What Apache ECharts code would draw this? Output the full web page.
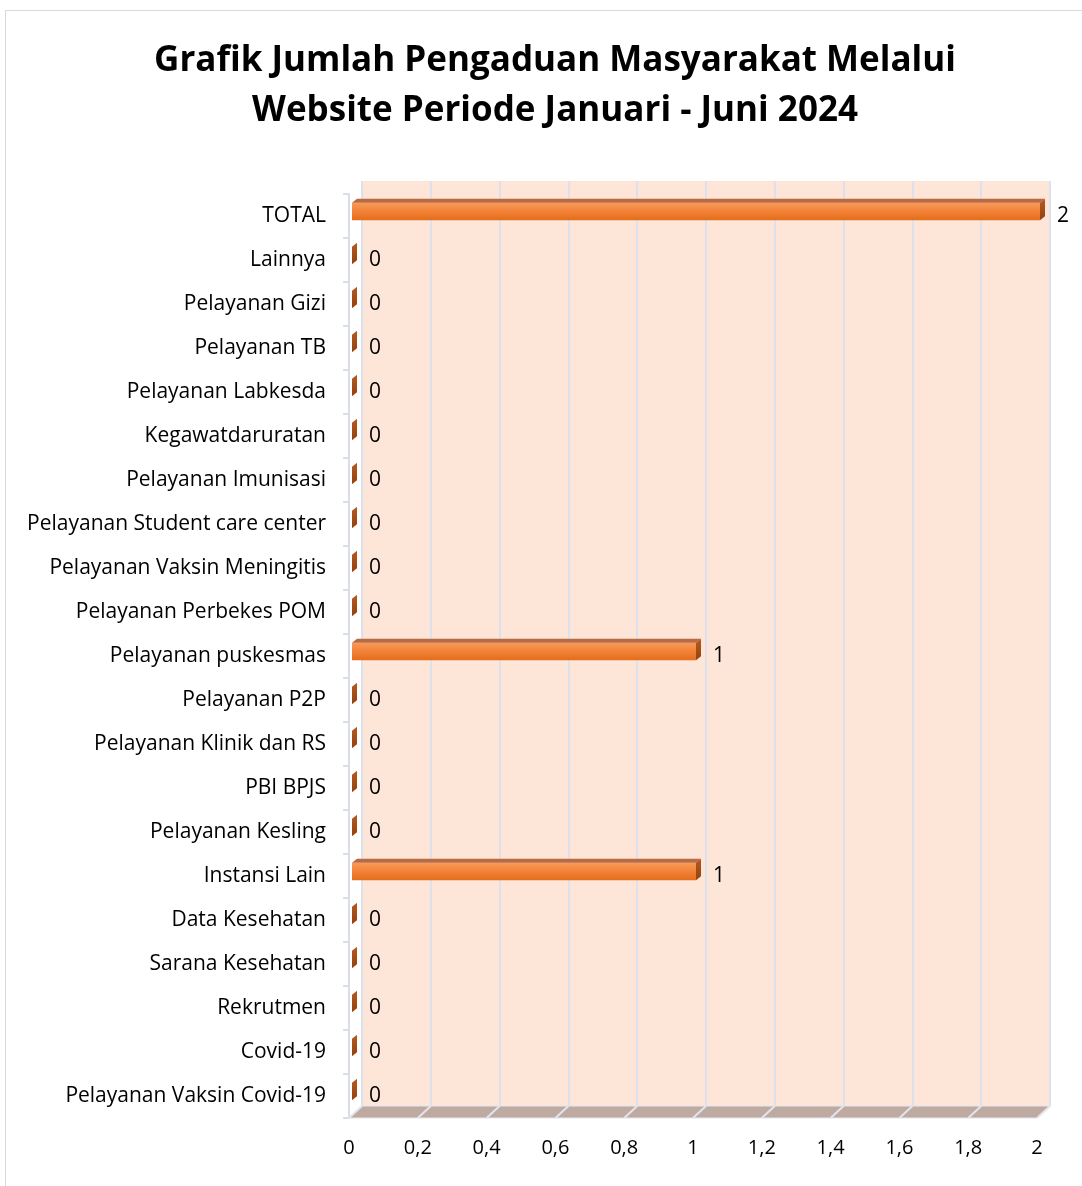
<!DOCTYPE html>
<html>
<head>
<meta charset="utf-8">
<script src="https://cdn.jsdelivr.net/npm/echarts@6/dist/echarts.min.js"></script>
<style>
  html, body { margin: 0; padding: 0; background: #fff; }
  #main { width: 1082px; height: 1186px; }
</style>
</head>
<body>
<div id="main"></div>
<script>
// kategori, urut dari atas ke bawah
var categories = [
  'TOTAL', 'Lainnya', 'Pelayanan Gizi', 'Pelayanan TB', 'Pelayanan Labkesda',
  'Kegawatdaruratan', 'Pelayanan Imunisasi', 'Pelayanan Student care center',
  'Pelayanan Vaksin Meningitis', 'Pelayanan Perbekes POM', 'Pelayanan puskesmas',
  'Pelayanan P2P', 'Pelayanan Klinik dan RS', 'PBI BPJS', 'Pelayanan Kesling',
  'Instansi Lain', 'Data Kesehatan', 'Sarana Kesehatan', 'Rekrutmen', 'Covid-19',
  'Pelayanan Vaksin Covid-19'
];
// jumlah pengaduan
var jumlah = [2, 0, 0, 0, 0, 0, 0, 0, 0, 0, 1, 0, 0, 0, 0, 1, 0, 0, 0, 0, 0];
// sumbu x
var xMin = 0, xMax = 2, xStep = 0.2;

var FONT = '"Open Sans", sans-serif';
var DX = 13, DY = -12;   // geser dinding belakang (efek 3D)

var chart = echarts.init(document.getElementById('main'));

// lantai + garis grid di lantai
function renderFloor(params, api) {
  var n = categories.length;
  var band = api.size([0, 1])[1];
  var l = api.coord([xMin, n - 1]);
  var r = api.coord([xMax, n - 1]);
  var y = l[1] + band / 2;
  var kids = [{
    type: 'polygon',
    shape: { points: [[l[0], y], [r[0], y], [r[0] + DX, y + DY], [l[0] + DX, y + DY]] },
    style: { fill: '#bfaaa2', stroke: '#e3e6ee', lineWidth: 1 }
  }];
  for (var k = 0; xMin + k * xStep <= xMax + 1e-9; k++) {
    var p = api.coord([xMin + k * xStep, n - 1]);
    kids.push({
      type: 'line',
      shape: { x1: p[0], y1: y, x2: p[0] + DX, y2: y + DY },
      style: { stroke: '#e2e5ee', lineWidth: 2 }
    });
  }
  return { type: 'group', children: kids };
}

// batang 3D
function renderBar(params, api) {
  var v = api.value(0), i = api.value(1);
  var s = api.coord([0, i]);
  var e = api.coord([v, i]);
  var band = api.size([0, 1])[1];
  var h = band * 0.4;
  var cy = s[1] - 4.5;
  var x0 = s[0] + 3, x1 = e[0] + 3;
  var top = cy - h / 2, bot = cy + h / 2;
  var ox = 5, oy = -4;
  return {
    type: 'group',
    children: [
      {
        type: 'rect',
        shape: { x: x0, y: top, width: x1 - x0, height: h },
        style: {
          fill: new echarts.graphic.LinearGradient(0, 0, 0, 1, [
            { offset: 0, color: '#f89a5a' },
            { offset: 0.45, color: '#f3843a' },
            { offset: 1, color: '#e56c1c' }
          ])
        }
      },
      {
        type: 'polygon',
        shape: { points: [[x0, top], [x1, top], [x1 + ox, top + oy], [x0 + ox, top + oy]] },
        style: { fill: '#b86a42' }
      },
      {
        type: 'polygon',
        shape: { points: [[x1, top], [x1 + ox, top + oy], [x1 + ox, bot + oy], [x1, bot]] },
        style: {
          fill: new echarts.graphic.LinearGradient(0, 0, 0, 1, [
            { offset: 0, color: '#b5591f' },
            { offset: 1, color: '#94420f' }
          ])
        }
      },
      {
        type: 'text',
        style: {
          text: String(v), x: x1 + ox + 12, y: cy + 4.5,
          fill: '#000', font: '21px ' + FONT,
          textAlign: 'left', textVerticalAlign: 'middle'
        }
      }
    ]
  };
}

chart.setOption({
  animation: false,
  title: {
    text: 'Grafik Jumlah Pengaduan Masyarakat Melalui\nWebsite Periode Januari - Juni 2024',
    left: 550, top: 31, textAlign: 'center',
    textStyle: { fontFamily: FONT, fontWeight: 'bold', fontSize: 35, lineHeight: 50, color: '#000' }
  },
  graphic: [{
    type: 'rect', z: -10, silent: true,
    shape: { x: 5.5, y: 10.5, width: 1200, height: 1300 },
    style: { fill: 'none', stroke: '#d9d9d9', lineWidth: 1 }
  }],
  grid: [
    { left: 362, top: 181, width: 688, height: 925, show: true, backgroundColor: '#fde5d8', borderWidth: 0 },
    { left: 349, top: 194, width: 688, height: 924 }
  ],
  xAxis: [
    {
      gridIndex: 0, type: 'value', min: xMin, max: xMax, interval: xStep,
      axisLine: { show: false }, axisTick: { show: false }, axisLabel: { show: false },
      splitLine: { show: true, lineStyle: { color: '#dde1eb', width: 2 } }
    },
    {
      gridIndex: 1, type: 'value', min: xMin, max: xMax, interval: xStep,
      axisLine: { show: false }, axisTick: { show: false }, splitLine: { show: false },
      axisLabel: {
        margin: 20, color: '#000', fontFamily: FONT, fontSize: 20,
        formatter: function (v) { return String(Math.round(v * 10) / 10).replace('.', ','); }
      }
    }
  ],
  yAxis: [
    {
      gridIndex: 0, type: 'category', data: categories, inverse: true, show: false
    },
    {
      gridIndex: 1, type: 'category', data: categories, inverse: true,
      axisLine: { show: true, lineStyle: { color: '#d9dde6', width: 2 } },
      axisTick: { show: true, length: 6, lineStyle: { color: '#d9dde6', width: 2 } },
      axisLabel: { margin: 23, color: '#000', fontFamily: FONT, fontSize: 21, padding: [8, 0, 0, 0] }
    }
  ],
  series: [
    {
      type: 'custom', xAxisIndex: 1, yAxisIndex: 1, z: 1,
      renderItem: renderFloor, data: [[0, 0]], silent: true
    },
    {
      type: 'custom', xAxisIndex: 1, yAxisIndex: 1, z: 3,
      renderItem: renderBar,
      encode: { x: 0, y: 1 },
      data: jumlah.map(function (v, i) { return [v, i]; })
    }
  ]
});
</script>
</body>
</html>
